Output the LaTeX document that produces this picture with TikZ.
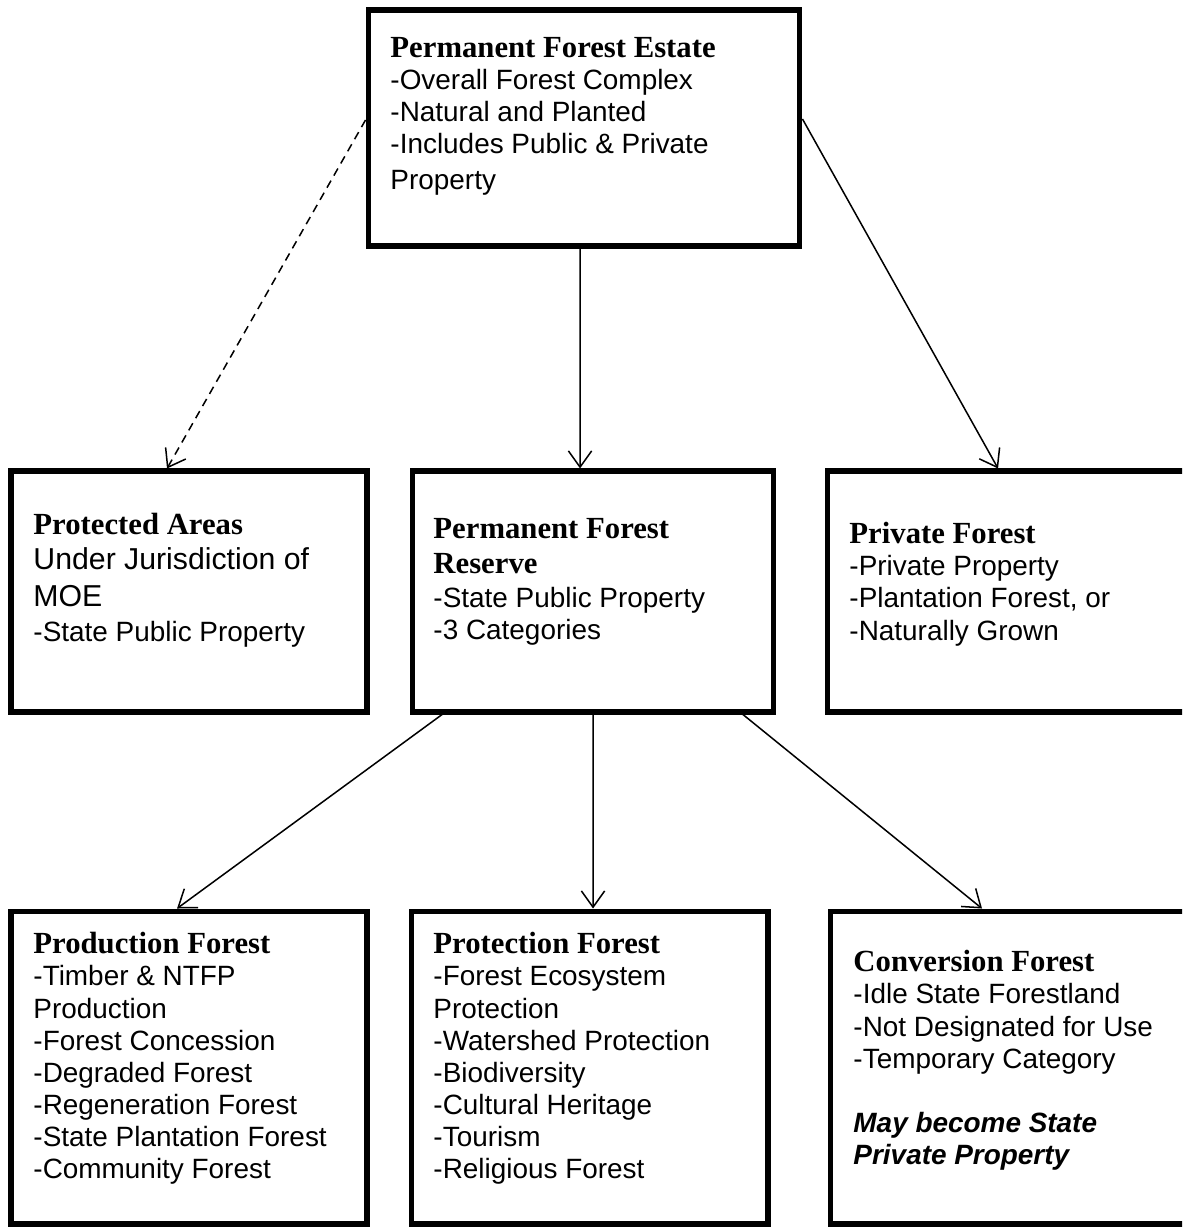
\documentclass[tikz,border=0pt]{standalone}
\usepackage{fontspec}
\setmainfont{Liberation Sans}
\newfontfamily\headfont{Liberation Serif}
\usetikzlibrary{arrows.meta,positioning}

\newcommand{\boxhead}[1]{{\headfont\bfseries\fontsize{13.2}{13.8}\selectfont #1}}
\newcommand{\boxnote}[1]{{\bfseries\itshape #1}}

\begin{document}
\begin{tikzpicture}[x=0.0151cm,y=-0.0151cm]
\tikzset{
  forestbox/.style={rectangle,draw=black,line width=2.2pt,inner sep=0pt},
  boxtext/.style={anchor=north west,inner sep=0pt,align=left,font=\fontsize{12}{13.8}\selectfont},
  link/.style={draw=black,line width=0.65pt,-{Straight Barb[length=7pt,width=10pt]}},
  dashedlink/.style={link,dash pattern=on 3.5pt off 2.5pt}
}
\useasboundingbox (0,0) rectangle (1182,1228);
\clip (0,0) rectangle (1182,1228);

% boxes
\node[forestbox,minimum width=6.523cm,minimum height=3.564cm] (pfe) at (584,128) {};
\node[forestbox,minimum width=5.376cm,minimum height=3.639cm] (pa) at (189,591.5) {};
\node[forestbox,minimum width=5.466cm,minimum height=3.639cm] (pfr) at (593,591.5) {};
\node[forestbox,minimum width=5.451cm,minimum height=3.639cm] (pf) at (1007.5,591.5) {};
\node[forestbox,minimum width=5.376cm,minimum height=4.726cm] (prod) at (189,1067.5) {};
\node[forestbox,minimum width=5.391cm,minimum height=4.726cm] (prot) at (589.5,1067.5) {};
\node[forestbox,minimum width=5.436cm,minimum height=4.726cm] (conv) at (1010,1067.5) {};

% texts
\node[boxtext] (pfe-txt) at (390,37) {\boxhead{Permanent Forest Estate}\\
  -Overall Forest Complex\\ -Natural and Planted\\ -Includes Public \& Private\\[1.3pt] Property};
\node[boxtext] (pa-txt) at (33,513) {\boxhead{Protected Areas}\\[1.2pt]
  {\fontsize{13}{15}\selectfont Under Jurisdiction of}\\[2pt]
  {\fontsize{13}{15}\selectfont MOE}\\[1.2pt] -State Public Property};
\node[boxtext] (pfr-txt) at (433,518) {\boxhead{Permanent Forest}\\[1pt]
  \boxhead{Reserve}\\[1pt] -State Public Property\\ -3 Categories};
\node[boxtext] (pf-txt) at (849,522) {\boxhead{Private Forest}\\
  -Private Property\\ -Plantation Forest, or\\ -Naturally Grown};
\node[boxtext] (prod-txt) at (33,932) {\boxhead{Production Forest}\\
  -Timber \& NTFP\\ Production\\ -Forest Concession\\ -Degraded Forest\\
  -Regeneration Forest\\ -State Plantation Forest\\ -Community Forest};
\node[boxtext] (prot-txt) at (433,932) {\boxhead{Protection Forest}\\
  -Forest Ecosystem\\ Protection\\ -Watershed Protection\\ -Biodiversity\\
  -Cultural Heritage\\ -Tourism\\ -Religious Forest};
\node[boxtext] (conv-txt) at (853,950) {\boxhead{Conversion Forest}\\
  -Idle State Forestland\\ -Not Designated for Use\\ -Temporary Category\\[13.8pt]
  \boxnote{May become State}\\ \boxnote{Private Property}};

% links
\draw[dashedlink] ([yshift=0.121cm]pfe.west) -- ([xshift=-0.332cm]pa.north);
\draw[link] ([xshift=-0.060cm]pfe.south) -- ([xshift=-0.196cm]pfr.north);
\draw[link] ([yshift=0.136cm]pfe.east) -- ([xshift=-0.143cm]pf.north);
\draw[link] ([xshift=-2.280cm]pfr.south) -- ([xshift=-0.181cm]prod.north);
\draw[link] (pfr.south) -- ([xshift=0.053cm]prot.north);
\draw[link] ([xshift=2.265cm]pfr.south) -- ([xshift=-0.423cm]conv.north);
\end{tikzpicture}
\end{document}
